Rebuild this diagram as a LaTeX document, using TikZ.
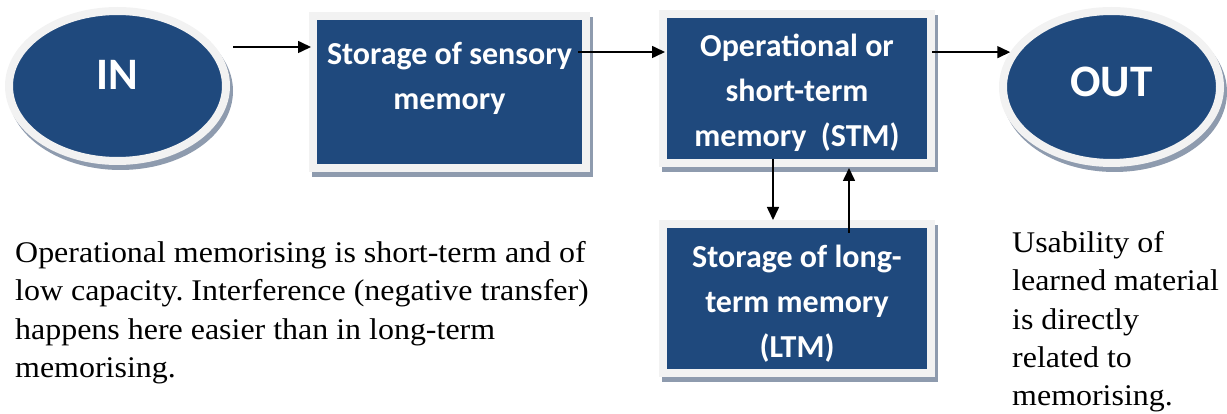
\documentclass[tikz,border=0pt]{standalone}
\usepackage{fontspec}
\setmainfont{Liberation Serif}[FakeStretch=1.065]
\newfontfamily\carlito{Carlito}
\usetikzlibrary{shapes.geometric,arrows.meta,calc}
\definecolor{boxblue}{RGB}{31,73,125}
\definecolor{ringgray}{RGB}{242,242,242}
\definecolor{shadowcol}{RGB}{142,155,174}
\frenchspacing
\begin{document}
\begin{tikzpicture}[x=1pt,y=-1pt,
  shade/.style={preaction={draw=shadowcol,fill=shadowcol,line width=8pt,transform canvas={xshift=3pt,yshift=-5pt}}},
  box/.style={shade, rectangle, draw=ringgray, fill=boxblue, line width=8pt, inner sep=0pt},
  oval/.style={shade, ellipse, draw=ringgray, fill=boxblue, line width=8pt, inner sep=0pt, text=white, font=\carlito\bfseries\fontsize{45}{54}\selectfont},
  boxtext/.style={text=white, align=center, font=\carlito\bfseries\fontsize{32}{45}\selectfont, inner sep=0pt},
  body/.style={align=left, font=\fontsize{30}{38.3}\selectfont, inner sep=0pt, anchor=north west},
  arr/.style={-{Triangle[length=13pt,width=12pt]}, line width=1.6pt}]
\useasboundingbox (0,0) rectangle (1227,414);
% shapes
\node[oval, minimum width=217pt, minimum height=150pt, text depth=22pt] (in) at (117.5,86) {IN};
\node[box, minimum width=273pt, minimum height=152pt] (sens) at (449.5,92) {};
\node[box, minimum width=268pt, minimum height=149pt] (stm) at (797,88.5) {};
\node[box, minimum width=268pt, minimum height=149pt] (ltm) at (797,298.5) {};
\node[oval, minimum width=217pt, minimum height=152pt, text depth=10pt] (out) at (1111.5,87) {OUT};
% box texts
\node[boxtext] (senst) at (449.5,78) {Storage of sensory\\memory};
\node[boxtext] (stmt) at (797,92.5) {Operational or\\short-term\\memory\ \ (STM)};
\node[boxtext] (ltmt) at (797,304) {Storage of long-\\term memory\\(LTM)};
% connectors
\draw[arr] ([xshift=3pt]in.east |- 0,47) -- ([xshift=2pt]sens.west |- 0,47);
\draw[arr] ([xshift=-12pt]sens.east |- 0,52) -- ([xshift=6pt]stm.west |- 0,52);
\draw[arr] ([xshift=-3pt]stm.east |- out.161.5) -- (out.161.5);
\draw[arr] ([xshift=-24pt,yshift=8pt]stm.south) -- ([xshift=-24pt]ltm.north);
\draw[arr] ([xshift=52pt,yshift=-13pt]ltm.north) -- ([xshift=52pt,yshift=-1pt]stm.south);
% descriptive texts
\node[body] (note1) at (15,241.3) {Operational memorising is short-term and of\\low capacity. Interference (negative transfer)\\happens here easier than in long-term\\memorising.};
\node[body] (note2) at (1012,231.3) {Usability of\\learned material\\is directly\\related to\\memorising.};
\end{tikzpicture}
\end{document}
